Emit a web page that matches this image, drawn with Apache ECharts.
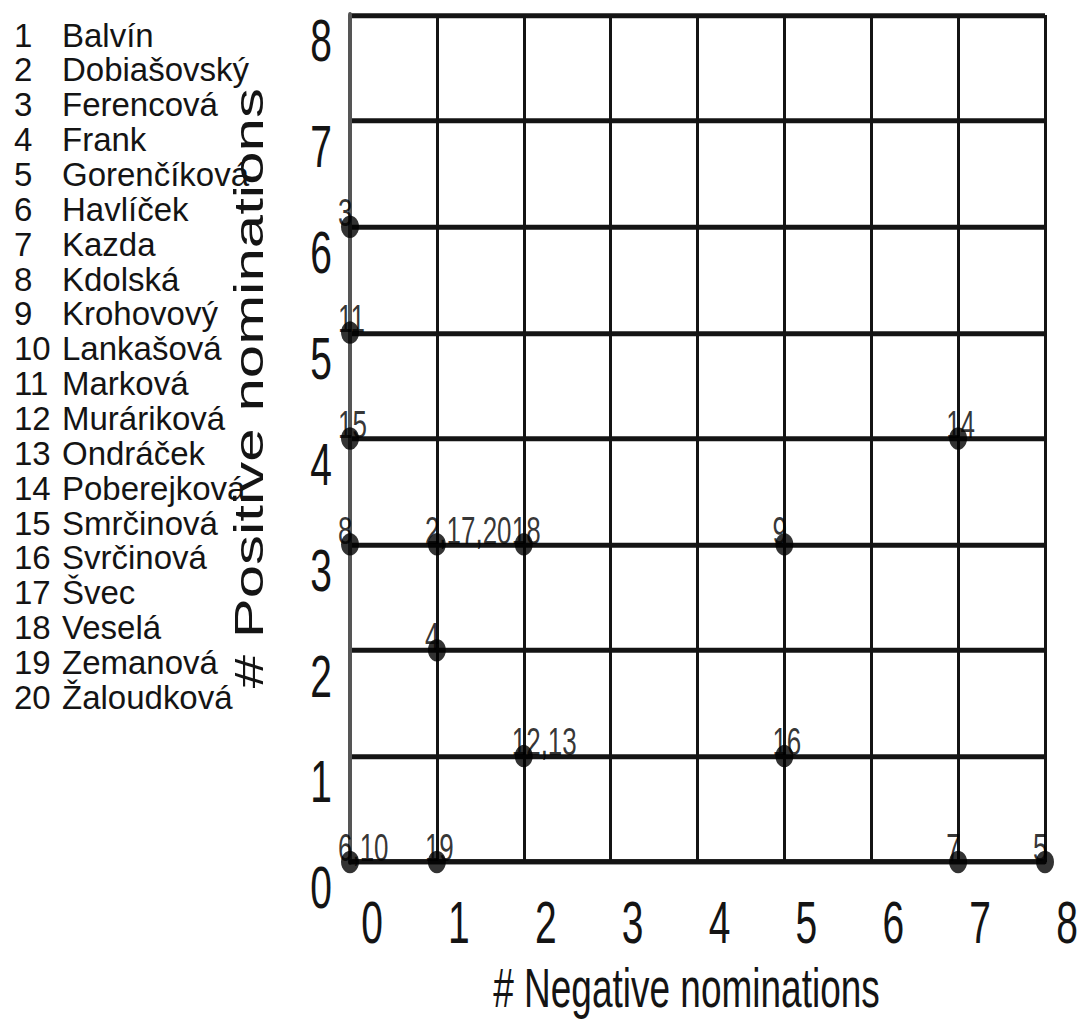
<!DOCTYPE html>
<html><head><meta charset="utf-8">
<script src="https://cdn.jsdelivr.net/npm/echarts@6/dist/echarts.min.js"></script>
<style>
html,body{margin:0;padding:0;background:#fff;overflow:hidden;width:1079px;height:1019px}
#wrap{width:1079px;height:1019px;overflow:hidden;position:relative;background:#fff}
#chart{width:1079px;height:680px;transform:scaleY(1.5);transform-origin:0 0}
</style></head><body><div id="wrap"><div id="chart"></div></div>
<script>
// Data
const negNominations = [0, 0, 0, 0, 1, 2, 5, 7, 1, 2, 5, 0, 1, 7, 8];
const posNominations = [6, 5, 4, 3, 3, 3, 3, 4, 2, 1, 1, 0, 0, 0, 0];
const pointLabels = ['3', '11', '15', '8', '2,17,20', '18', '9', '14', '4', '12,13', '16', '6,10', '19', '7', '5'];
const studentNumbers = ['1','2','3','4','5','6','7','8','9','10','11','12','13','14','15','16','17','18','19','20'];
const studentNames = ['Balvín','Dobiašovský','Ferencová','Frank','Gorenčíková','Havlíček','Kazda','Kdolská','Krohovový','Lankašová','Marková','Muráriková','Ondráček','Poberejková','Smrčinová','Svrčinová','Švec','Veselá','Zemanová','Žaloudková'];
const xTickValues = [0, 1, 2, 3, 4, 5, 6, 7, 8];
const yTickValues = [0, 1, 2, 3, 4, 5, 6, 7, 8];
const xTitle = '# Negative nominations';
const yTitle = '# Positive nominations';

const S = 1.5; // vertical stretch of the original picture
const FONT = "'Liberation Sans', Arial, sans-serif";
const NARROW = "'Liberation Sans Narrow', 'Arial Narrow', 'Liberation Sans', sans-serif";
const INK = '#141414';

const chart = echarts.init(document.getElementById('chart'), null, {renderer: 'svg'});
chart.setOption({
  animation: false,
  backgroundColor: '#fff',
  grid: {left: 350, right: 34, top: 10, bottom: 680 - 862 / S, containLabel: false, outerBoundsMode: 'none'},
  xAxis: {
    type: 'value', min: xTickValues[0], max: xTickValues[xTickValues.length - 1], interval: 1,
    name: xTitle, nameLocation: 'middle', nameGap: 64,
    nameTextStyle: {fontSize: 37, lineHeight: 34, fontFamily: FONT, color: INK, padding: [0, 22, 0, 0]},
    axisLine: {show: true, lineStyle: {color: INK, width: 3.4}},
    axisTick: {show: false},
    axisLabel: {fontSize: 39, fontFamily: FONT, color: INK, margin: 21, padding: [0, 0, 0, 44]},
    splitLine: {show: true, lineStyle: {color: INK, width: 3}}
  },
  yAxis: {
    type: 'value', min: yTickValues[0], max: yTickValues[yTickValues.length - 1], interval: 1,
    name: yTitle, nameLocation: 'middle', nameGap: 81, nameRotate: 90,
    nameTextStyle: {fontSize: 40, fontFamily: FONT, color: INK, padding: [0, 0, 0, 67]},
    axisLine: {show: true, lineStyle: {color: '#555', width: 4}},
    axisTick: {show: false},
    axisLabel: {fontSize: 39, fontFamily: FONT, color: INK, margin: 18, verticalAlign: 'top', lineHeight: 35},
    splitLine: {show: true, lineStyle: {color: INK, width: 3.4}}
  },
  series: [{
    type: 'scatter',
    symbol: 'circle',
    symbolSize: [18, 15],
    itemStyle: {color: '#000'},
    z: 5,
    data: negNominations.map((x, i) => [x, posNominations[i], pointLabels[i]]),
    label: {
      show: true, position: 'top', distance: 0, align: 'left', offset: [-12, 11],
      formatter: p => p.data[2],
      fontSize: 26, fontFamily: NARROW, color: '#000'
    }
  }],
  graphic: [{
    type: 'group', x: 0, y: 0, scaleY: 1 / S,
    children: [
      {type: 'text', x: 14, y: 17.6, style: {text: studentNumbers.join('\n'), fontSize: 33, fontFamily: FONT, lineHeight: 34.84, fill: INK, verticalAlign: 'top'}},
      {type: 'text', x: 62, y: 17.6, style: {text: studentNames.join('\n'), fontSize: 33, fontFamily: FONT, lineHeight: 34.84, fill: INK, verticalAlign: 'top'}}
    ]
  }]
});
</script></body></html>
